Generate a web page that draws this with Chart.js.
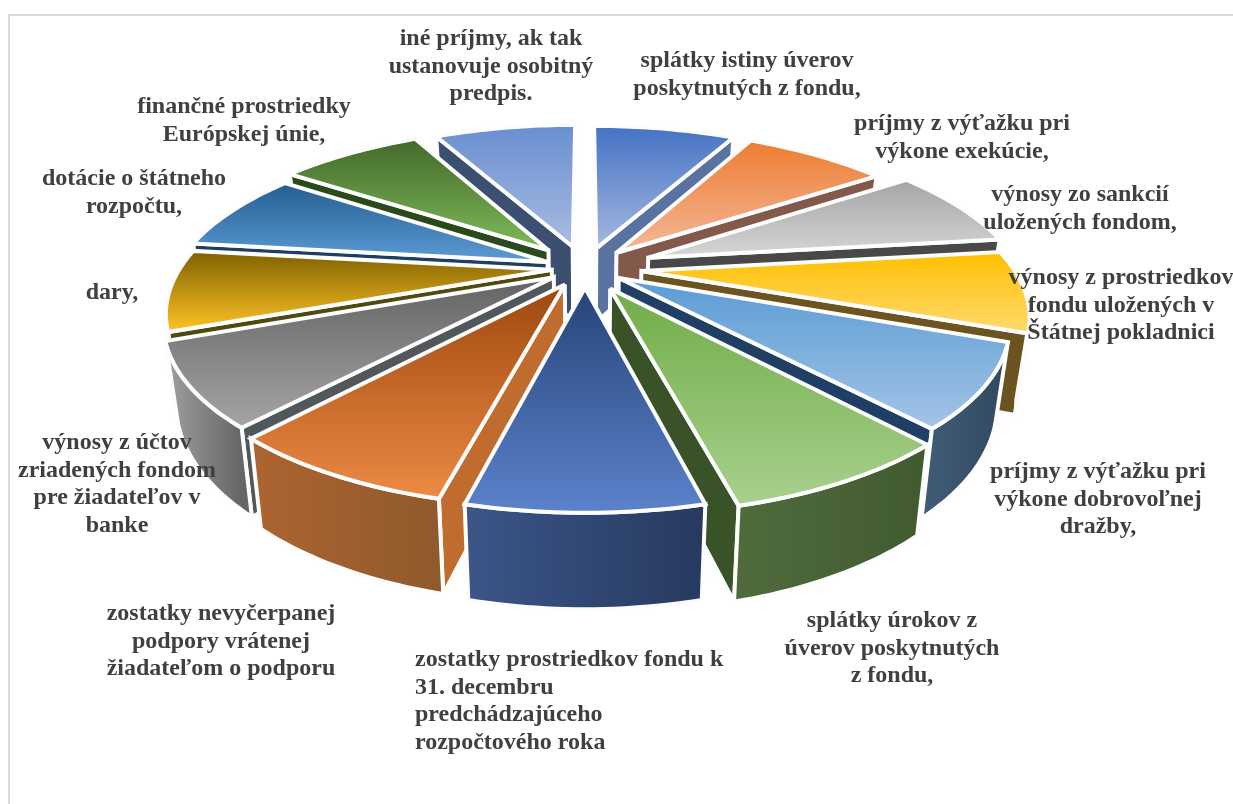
<!DOCTYPE html>
<html>
<head>
<meta charset="utf-8">
<script src="https://cdn.jsdelivr.net/npm/chart.js@4/dist/chart.umd.min.js"></script>
<style>
  html, body { margin: 0; padding: 0; background: #fff; overflow: hidden; }
  #frame { position: absolute; left: 8px; top: 14px; right: 0; bottom: 0; border-left: 2px solid #d9d9d9; border-top: 2px solid #d9d9d9; }
  #pie { position: absolute; left: 0; top: 0; }
</style>
</head>
<body>
<div id="frame"></div>
<canvas id="pie" width="1233" height="804"></canvas>
<script>
//Slice names, clockwise from the top
const categories = [
  "splátky istiny úverov poskytnutých z fondu,",
  "príjmy z výťažku pri výkone exekúcie,",
  "výnosy zo sankcií uložených fondom,",
  "výnosy z prostriedkov fondu uložených v Štátnej pokladnici",
  "príjmy z výťažku pri výkone dobrovoľnej dražby,",
  "splátky úrokov z úverov poskytnutých z fondu,",
  "zostatky prostriedkov fondu k 31. decembru predchádzajúceho rozpočtového roka",
  "zostatky nevyčerpanej podpory vrátenej žiadateľom o podporu",
  "výnosy z účtov zriadených fondom pre žiadateľov v banke",
  "dary,",
  "dotácie o štátneho rozpočtu,",
  "finančné prostriedky Európskej únie,",
  "iné príjmy, ak tak ustanovuje osobitný predpis.",
];
//All pieces have the same size in the picture
const values = [1, 1, 1, 1, 1, 1, 1, 1, 1, 1, 1, 1, 1];
//How far each piece is pulled out of the pie
const explode = [48, 48, 68, 56, 40, 52, 44, 42, 37, 33, 40, 56, 52];

//Colors: top face far end, top face near end, cut face, rim left, rim right
const topFar = ["#4472c4", "#ed7d31", "#a5a5a5", "#ffc000", "#5b9bd5", "#70ad47", "#264478", "#9e480e", "#636363", "#7f6000", "#255e91", "#43682b", "#698ed0"];
const topNear = ["#a5b8e0", "#f4b899", "#d6d6d6", "#ffd970", "#a3c4e6", "#a9d08e", "#5b82cb", "#ed8a45", "#a5a5a5", "#ffc425", "#5b9bd5", "#7ebb58", "#aabce2"];
const cutColors = ["#5a72a0", "#82594a", "#484848", "#6b5420", "#1f3f64", "#3a5228", "#27395f", "#c06c2e", "#50585c", "#4f4a10", "#1e3f60", "#2b4a1c", "#3c4f70"];
const rimLeft = ["#2f4f8a", "#a85a24", "#737373", "#b38600", "#3e5a75", "#4f6b3c", "#3b5688", "#ad6430", "#a0a0a0", "#8f6c00", "#2e6a9e", "#4f7a33", "#4a6596"];
const rimRight = ["#2a4679", "#8f4c1e", "#5f5f5f", "#997200", "#32495f", "#415a30", "#27395f", "#8f5a2c", "#666666", "#7a5c00", "#265a88", "#43682b", "#3f5682"];

//Label rows and where each block starts
const labelLines = [
  ["splátky istiny úverov", "poskytnutých z fondu,"],
  ["príjmy z výťažku pri", "výkone exekúcie,"],
  ["výnosy zo sankcií", "uložených fondom,"],
  ["výnosy z prostriedkov", "fondu uložených v", "Štátnej pokladnici"],
  ["príjmy z výťažku pri", "výkone dobrovoľnej", "dražby,"],
  ["splátky úrokov z", "úverov poskytnutých", "z fondu,"],
  ["zostatky prostriedkov fondu k", "31. decembru", "predchádzajúceho", "rozpočtového roka"],
  ["zostatky nevyčerpanej", "podpory vrátenej", "žiadateľom o podporu"],
  ["výnosy z účtov", "zriadených fondom", "pre žiadateľov v", "banke"],
  ["dary,"],
  ["dotácie o štátneho", "rozpočtu,"],
  ["finančné prostriedky", "Európskej únie,"],
  ["iné príjmy, ak tak", "ustanovuje osobitný", "predpis."],
];
const labelX = [747, 962, 1080, 1121, 1098, 892, 415, 221, 117, 112, 134, 244, 491];
const labelY = [61, 124, 195, 278, 472, 621, 660, 614, 443, 293, 179, 107, 39];

//Perspective settings for the tilted pie
const view = { cx: 585, cy: 268, tilt: 0.435, depth: 0.00065, wall: 76, narrow: 0.03, scaleX: 1.01 };
const lineGap = 27.6;
const cameraY = 1 / view.depth;

const project = (px, py, z) => {
  const f = 1 / (1 - view.depth * py);
  const k = 1 - z * view.narrow;
  return [view.cx + px * f * k * view.scaleX, view.cy + py * view.tilt * f * k + z * view.wall * f];
};

const paint = (ctx, points, fill) => {
  ctx.beginPath();
  points.forEach((p, i) => (i ? ctx.lineTo(p[0], p[1]) : ctx.moveTo(p[0], p[1])));
  ctx.closePath();
  ctx.fillStyle = fill;
  ctx.fill();
  ctx.strokeStyle = "#fdfdfd";
  ctx.lineWidth = 4;
  ctx.lineJoin = "miter";
  ctx.miterLimit = 3;
  ctx.stroke();
};

//Draws one piece from the arc the library laid out
const drawSlice = (ctx, arc, i) => {
  const { startAngle, endAngle, outerRadius } = arc.getProps(["startAngle", "endAngle", "outerRadius"], true);
  const mid = (startAngle + endAngle) / 2;
  const ox = Math.cos(mid) * arc.options.offset;
  const oy = Math.sin(mid) * arc.options.offset;
  const angles = [];
  for (let s = 0; s <= 24; s++) angles.push(startAngle + ((endAngle - startAngle) * s) / 24);
  const rimPoint = (a) => [ox + Math.cos(a) * outerRadius, oy + Math.sin(a) * outerRadius];
  const rimAt = (list, z) => list.map((a) => project(rimPoint(a)[0], rimPoint(a)[1], z));
  const rimTop = rimAt(angles, 0);
  const apexTop = project(ox, oy, 0);
  const apexBottom = project(ox, oy, 1);
  //only the faces turned to the camera get painted
  const startSeen = Math.cos(startAngle - Math.PI / 2) * -ox + Math.sin(startAngle - Math.PI / 2) * (cameraY - oy) > 0;
  const endSeen = Math.cos(endAngle + Math.PI / 2) * -ox + Math.sin(endAngle + Math.PI / 2) * (cameraY - oy) > 0;
  if (startSeen) paint(ctx, [apexTop, rimTop[0], project(...rimPoint(startAngle), 1), apexBottom], cutColors[i]);
  if (endSeen) paint(ctx, [apexTop, rimTop[24], project(...rimPoint(endAngle), 1), apexBottom], cutColors[i]);
  const front = angles.filter((a) => {
    const p = rimPoint(a);
    return Math.cos(a) * -p[0] + Math.sin(a) * (cameraY - p[1]) > 0;
  });
  if (front.length > 1) {
    const upper = rimAt(front, 0);
    const lower = rimAt(front, 1);
    const xs = upper.map((p) => p[0]);
    const rimGradient = ctx.createLinearGradient(Math.min(...xs), 0, Math.max(...xs), 0);
    rimGradient.addColorStop(0, rimLeft[i]);
    rimGradient.addColorStop(1, rimRight[i]);
    paint(ctx, upper.concat(lower.reverse()), rimGradient);
  }
  const ys = rimTop.map((p) => p[1]).concat(apexTop[1]);
  const topGradient = ctx.createLinearGradient(0, Math.min(...ys), 0, Math.max(...ys));
  topGradient.addColorStop(0, topFar[i]);
  topGradient.addColorStop(1, topNear[i]);
  paint(ctx, [apexTop].concat(rimTop), topGradient);
};

const tiltedPie = {
  id: "tiltedPie",
  beforeDatasetDraw(chart, args) {
    const ctx = chart.ctx;
    const arcs = args.meta.data.map((arc, i) => ({ arc, i }));
    //back pieces first so the front ones cover them
    arcs.sort((a, b) => Math.sin((a.arc.startAngle + a.arc.endAngle) / 2) - Math.sin((b.arc.startAngle + b.arc.endAngle) / 2));
    ctx.save();
    arcs.forEach((a) => drawSlice(ctx, a.arc, a.i));
    ctx.restore();
    return false;
  },
  afterDraw(chart) {
    const ctx = chart.ctx;
    ctx.save();
    ctx.font = "bold 24px 'Liberation Serif'";
    ctx.fillStyle = "#404040";
    ctx.textBaseline = "middle";
    labelLines.forEach((lines, i) => {
      //the long bottom label is left aligned, the others centred
      ctx.textAlign = i === 6 ? "left" : "center";
      lines.forEach((line, n) => ctx.fillText(line, labelX[i], labelY[i] + n * lineGap));
    });
    ctx.restore();
  },
};

new Chart(document.getElementById("pie"), {
  type: "pie",
  plugins: [tiltedPie],
  data: {
    labels: categories,
    datasets: [{ data: values, backgroundColor: topFar, offset: explode, borderWidth: 0 }],
  },
  options: {
    responsive: false,
    animation: false,
    plugins: { legend: { display: false }, tooltip: { enabled: false } },
  },
});
</script>
</body>
</html>
